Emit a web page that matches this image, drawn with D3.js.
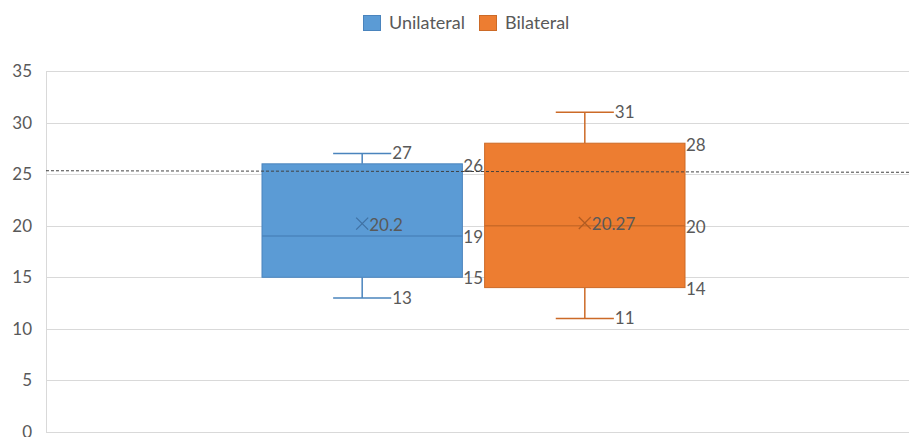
<!DOCTYPE html>
<html>
<head>
<meta charset="utf-8">
<script src="https://cdn.jsdelivr.net/npm/d3@7"></script>
<style>
  html, body { margin: 0; padding: 0; background: #fff; }
  svg { display: block; font-family: Lato, "Open Sans", sans-serif; }
</style>
</head>
<body>
<svg id="chart" width="909" height="437"></svg>
<script>
// Box-plot summary for each group
const seriesNames = ["Unilateral", "Bilateral"];
const minValues = [13, 11];
const q1Values = [15, 14];
const medianValues = [19, 20];
const q3Values = [26, 28];
const maxValues = [27, 31];
const meanValues = [20.2, 20.27];
const meanLabels = ["20.2", "20.27"];
const fillColors = ["#5B9BD5", "#ED7D31"];
const strokeColors = ["#4A84BD", "#CC6A27"];
const yTicks = [0, 5, 10, 15, 20, 25, 30, 35];
// Dashed reference line: value at the left and right edge of the plot
const refLine = [25.33, 25.18];

const svg = d3.select("#chart");
const W = 909, H = 437;
const plot = { left: 46, right: 901, top: 71, bottom: 432 };
const textColor = "#595959";
const labelSize = 17;

const y = d3.scaleLinear().domain([0, 35]).range([plot.bottom, plot.top]);
const x = d3.scaleBand().domain(seriesNames)
  .range([plot.left + 216, plot.right - 216]).paddingInner(0.1);

// Gridlines
svg.append("g").selectAll("line").data(yTicks).join("line")
  .attr("x1", plot.left).attr("x2", W)
  .attr("y1", d => Math.round(y(d)) + 0.5).attr("y2", d => Math.round(y(d)) + 0.5)
  .attr("stroke", "#d9d9d9").attr("stroke-width", 1);

// Left axis line
svg.append("line")
  .attr("x1", plot.left + 0.5).attr("x2", plot.left + 0.5)
  .attr("y1", y(35)).attr("y2", plot.bottom + 1)
  .attr("stroke", "#d9d9d9");

// Y axis labels
const yAxis = d3.axisLeft(y).tickValues(yTicks).tickSize(0).tickPadding(14);
svg.append("g").attr("transform", `translate(${plot.left},0)`).call(yAxis)
  .call(g => g.select(".domain").remove())
  .selectAll("text").attr("fill", textColor).attr("font-size", labelSize)
  .attr("font-family", "Lato, 'Open Sans', sans-serif");

// Boxes
const idx = d3.range(seriesNames.length);
const g = svg.append("g");
idx.forEach(i => {
  const name = seriesNames[i];
  const x0 = x(name), bw = x.bandwidth(), cx = x0 + bw / 2;
  const capHalf = bw * 0.145;
  const sc = strokeColors[i];
  const grp = g.append("g");

  // whiskers
  grp.append("line").attr("x1", cx).attr("x2", cx)
    .attr("y1", y(maxValues[i])).attr("y2", y(q3Values[i]))
    .attr("stroke", sc).attr("stroke-width", 1.5);
  grp.append("line").attr("x1", cx).attr("x2", cx)
    .attr("y1", y(q1Values[i])).attr("y2", y(minValues[i]))
    .attr("stroke", sc).attr("stroke-width", 1.5);
  grp.append("line").attr("x1", cx - capHalf).attr("x2", cx + capHalf)
    .attr("y1", y(maxValues[i])).attr("y2", y(maxValues[i]))
    .attr("stroke", sc).attr("stroke-width", 1.5);
  grp.append("line").attr("x1", cx - capHalf).attr("x2", cx + capHalf)
    .attr("y1", y(minValues[i])).attr("y2", y(minValues[i]))
    .attr("stroke", sc).attr("stroke-width", 1.5);

  // box
  grp.append("rect")
    .attr("x", x0).attr("width", bw)
    .attr("y", y(q3Values[i])).attr("height", y(q1Values[i]) - y(q3Values[i]))
    .attr("fill", fillColors[i]).attr("stroke", sc).attr("stroke-width", 1);

  // median
  grp.append("line").attr("x1", x0).attr("x2", x0 + bw)
    .attr("y1", y(medianValues[i])).attr("y2", y(medianValues[i]))
    .attr("stroke", sc).attr("stroke-width", 1.5);

  // mean marker
  const my = y(meanValues[i]), s = 6;
  grp.append("path")
    .attr("d", `M${cx - s},${my - s}L${cx + s},${my + s}M${cx - s},${my + s}L${cx + s},${my - s}`)
    .attr("stroke", d3.color(sc).darker(0.4)).attr("stroke-width", 1.3).attr("fill", "none");

  // labels
  const lab = (tx, ty, t) => grp.append("text").attr("x", tx).attr("y", ty)
    .attr("dy", "0.35em").attr("fill", textColor).attr("font-size", labelSize).text(t);
  lab(cx + capHalf + 1, y(maxValues[i]), maxValues[i]);
  lab(cx + capHalf + 1, y(minValues[i]), minValues[i]);
  lab(x0 + bw + 1, y(q3Values[i]) + 2, q3Values[i]);
  lab(x0 + bw + 1, y(medianValues[i]) + 1, medianValues[i]);
  lab(x0 + bw + 1, y(q1Values[i]) + 1, q1Values[i]);
  lab(cx + s + 1, my + 1, meanLabels[i]);
});

// Dashed reference line
svg.append("line")
  .attr("x1", plot.left).attr("x2", W)
  .attr("y1", y(refLine[0])).attr("y2", y(refLine[1]))
  .attr("stroke", "#404040").attr("stroke-width", 1).attr("stroke-dasharray", "3,2");

// Legend
const legend = svg.append("g");
const legendItems = [{ x: 363, i: 0 }, { x: 479, i: 1 }];
legendItems.forEach(({ x: lx, i }) => {
  legend.append("rect").attr("x", lx + 0.5).attr("y", 15.5).attr("width", 17).attr("height", 15)
    .attr("fill", fillColors[i]).attr("stroke", strokeColors[i]);
  legend.append("text").attr("x", lx + 26).attr("y", 23).attr("dy", "0.35em")
    .attr("fill", textColor).attr("font-size", 18).text(seriesNames[i]);
});
</script>
</body>
</html>
